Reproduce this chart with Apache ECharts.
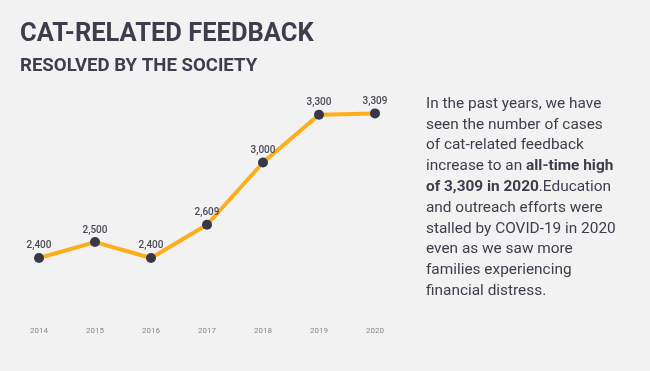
<!DOCTYPE html>
<html><head><meta charset="utf-8">
<script src="https://cdn.jsdelivr.net/npm/echarts@6/dist/echarts.min.js"></script>
<style>html,body{margin:0;padding:0;background:#f2f2f2;}#c{width:650px;height:371px;}</style>
</head><body><div id="c"></div>
<script>
const years = ['2014','2015','2016','2017','2018','2019','2020'];
const cases = [2400, 2500, 2400, 2609, 3000, 3300, 3309];
const titleText = 'CAT-RELATED FEEDBACK';
const subtitleText = 'RESOLVED BY THE SOCIETY';
const noteText = 'In the past years, we have\nseen the number of cases\nof cat-related feedback\nincrease to an {b|all-time high}\n{b|of 3,309 in 2020}.Education\nand outreach efforts were\nstalled by COVID-19 in 2020\neven as we saw more\nfamilies experiencing\nfinancial distress.';
const ff = "Roboto, sans-serif";
const ink = '#3e3d4b';
const chart = echarts.init(document.getElementById('c'));
chart.setOption({
  backgroundColor: '#f2f2f2',
  animation: false,
  grid: {left: 11, right: 247, top: 83, bottom: 49.4},
  xAxis: {
    type: 'category', data: years, boundaryGap: true,
    axisLine: {show: false}, axisTick: {show: false},
    axisLabel: {color: '#888', fontSize: 8, margin: 5, fontFamily: ff}
  },
  yAxis: {type: 'value', min: 2000, max: 3500, show: false, splitLine: {show: false}},
  series: [{
    type: 'line', data: cases,
    lineStyle: {color: '#fdae1b', width: 4},
    itemStyle: {color: '#393849'},
    symbol: 'circle', symbolSize: 10, showAllSymbol: true,
    label: {show: true, position: 'top', distance: 2, color: '#4a4a55', fontSize: 10, fontWeight: 500, fontFamily: ff,
      formatter: p => p.value.toLocaleString('en-US')}
  }],
  graphic: [
    {type: 'text', style: {x: 20, y: 34.5, verticalAlign: 'middle', text: titleText, fill: ink, fontSize: 25.5, fontWeight: 'bold', fontFamily: ff}},
    {type: 'text', style: {x: 20, y: 66.5, verticalAlign: 'middle', text: subtitleText, fill: ink, fontSize: 18.6, fontWeight: 'bold', fontFamily: ff}},
    {type: 'text', style: {
      x: 426, y: 93.6, verticalAlign: 'top',
      text: noteText, fill: ink, fontSize: 15.4, lineHeight: 20.8, fontFamily: ff,
      rich: {b: {fontWeight: 'bold', fontSize: 15.4, lineHeight: 20.8, fontFamily: ff, fill: ink}}
    }}
  ]
});
</script></body></html>
